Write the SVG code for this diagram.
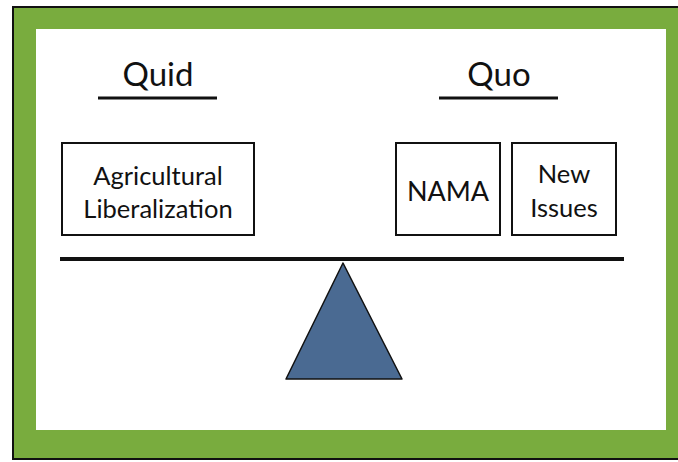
<svg xmlns="http://www.w3.org/2000/svg" width="678" height="462" viewBox="0 0 678 462">
<style>
.t{font-family:"Lato","Open Sans","Liberation Sans",sans-serif;fill:#111;text-anchor:middle}
.h{font-size:33px}
.b{font-size:25.5px}
.box{fill:#fff;stroke:#111;stroke-width:2}
.ln{stroke:#111;stroke-width:3}
</style>
<rect x="0" y="0" width="678" height="462" fill="#fff"/>
<rect x="13" y="7" width="670" height="452" fill="#79ac3e" stroke="#111" stroke-width="2"/>
<rect x="36" y="29" width="630" height="401" fill="#fff"/>
<g id="quid">
<text class="t h" x="158" y="86">Quid</text>
<line class="ln" x1="98" y1="98" x2="217" y2="98"/>
</g>
<g id="quo">
<text class="t h" x="499" y="86">Quo</text>
<line class="ln" x1="439" y1="98" x2="558" y2="98"/>
</g>
<g id="agri">
<rect class="box" x="62" y="143" width="192" height="92"/>
<text class="t b" x="158" y="185">Agricultural</text>
<text class="t b" x="158" y="218">Liberalization</text>
</g>
<g id="nama">
<rect class="box" x="396" y="143" width="104" height="92"/>
<text class="t b" x="448" y="201" style="font-size:27px">NAMA</text>
</g>
<g id="newissues">
<rect class="box" x="512" y="143" width="104" height="92"/>
<text class="t b" x="564" y="183">New</text>
<text class="t b" x="564" y="217">Issues</text>
</g>
<g id="connectors">
<line x1="60" y1="259" x2="624" y2="259" stroke="#111" stroke-width="4"/>
</g>
<g id="fulcrum">
<polygon points="343,263 286,379 402,379" fill="#4a6a92" stroke="#111" stroke-width="1.5" stroke-linejoin="round"/>
</g>
</svg>
